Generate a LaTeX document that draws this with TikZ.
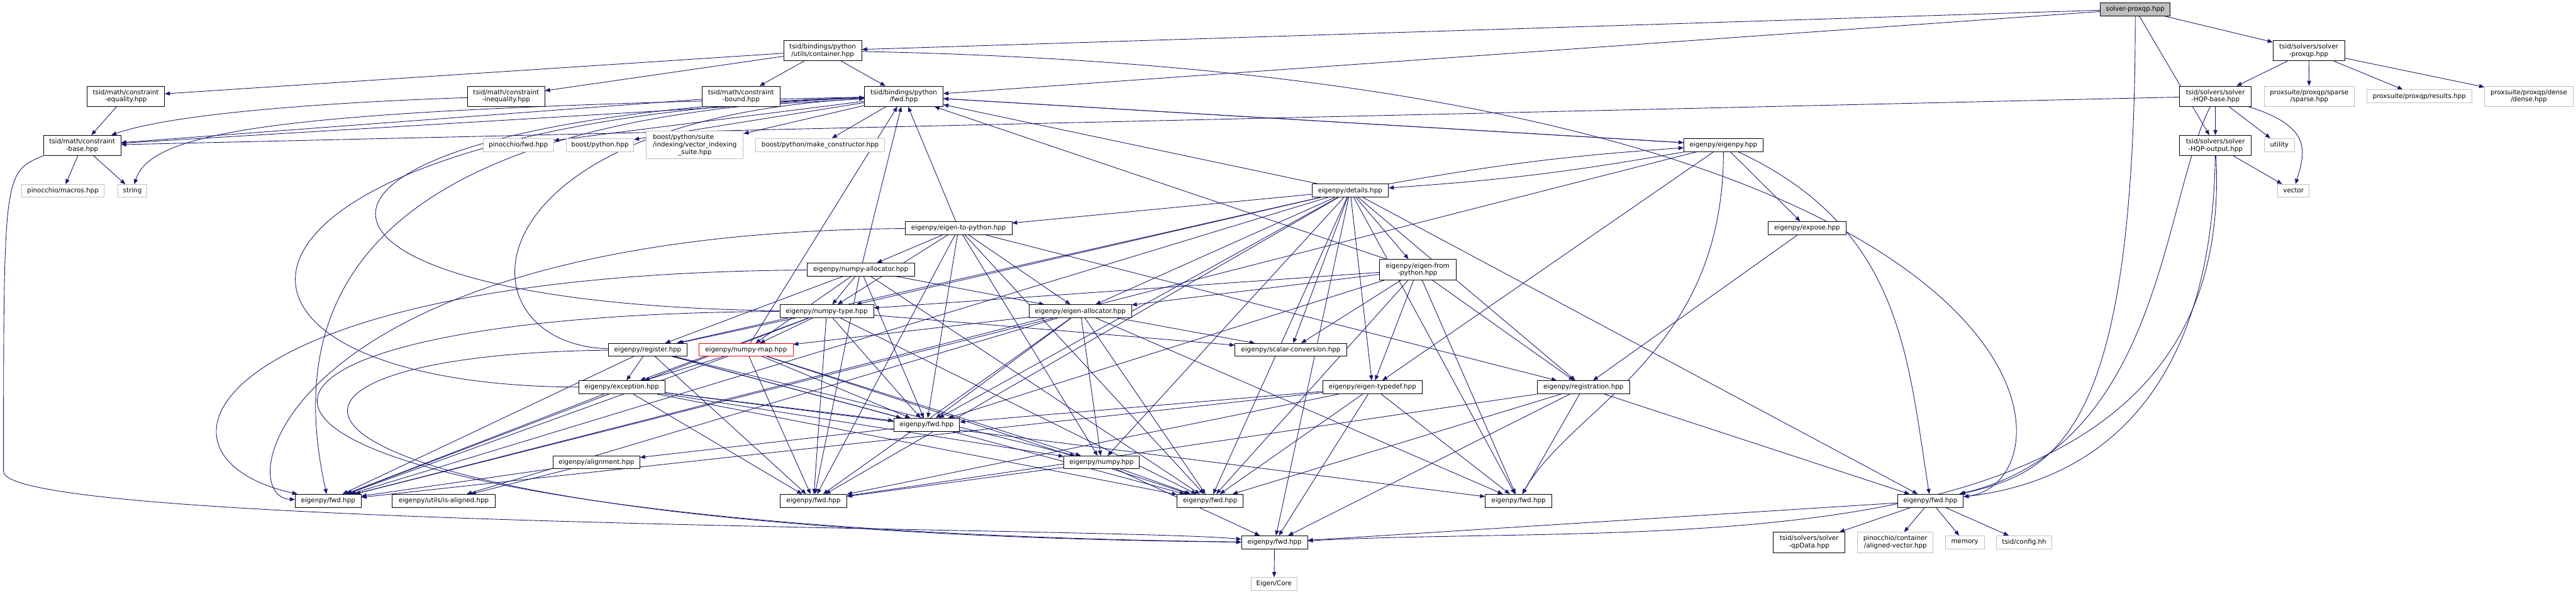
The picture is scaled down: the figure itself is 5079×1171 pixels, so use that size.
\documentclass[tikz,border=0pt]{standalone}
\usepackage{fontspec}
\usepackage{calc}
\setmainfont{DejaVu Sans}
\usetikzlibrary{arrows.meta}
\definecolor{Navy}{HTML}{191970}
\definecolor{Ext}{HTML}{BFBFBF}
\pgfdeclarelayer{bg}
\pgfsetlayers{bg,main}

\begin{document}
\begin{tikzpicture}[x=1pt,y=1pt,
    file/.style={draw=black,fill=white,line width=1pt,inner sep=0pt,minimum height=26,
      align=center,font=\fontsize{12.8}{14.5}\selectfont},
    ext/.style={file,draw=Ext},
    root/.style={file,fill=Ext},
    two/.style={minimum height=40},
    dep/.style={Navy,line width=1.1pt,-{Triangle[length=10pt,width=8pt]}},
    every edge/.style={draw,dep}
  ]
  \useasboundingbox (0,0) rectangle (5079,-1171);

  % top of the graph
  \node[root,minimum width=138] (r) at (4210,-18) {solver-proxqp.hpp};
  \node[file,two,minimum width=154] (con) at (1622,-100) {tsid/bindings/python\\/utils/container.hpp};
  \node[file,two,minimum width=141] (tsp) at (4552,-100) {tsid/solvers/solver\\-proxqp.hpp};
  \node[file,two,minimum width=153] (ceq) at (248,-190) {tsid/math/constraint\\-equality.hpp};
  \node[file,two,minimum width=152] (cin) at (998,-190) {tsid/math/constraint\\-inequality.hpp};
  \node[file,two,minimum width=153] (cbd) at (1461,-190) {tsid/math/constraint\\-bound.hpp};
  \node[file,two,minimum width=155] (tbf) at (1782,-190) {tsid/bindings/python\\/fwd.hpp};
  \node[file,two,minimum width=141] (hb) at (4368,-190) {tsid/solvers/solver\\-HQP-base.hpp};
  \node[ext,two,minimum width=178] (spa) at (4553,-190) {proxsuite/proxqp/sparse\\/sparse.hpp};
  \node[ext,minimum width=207] (res) at (4770,-190) {proxsuite/proxqp/results.hpp};
  \node[ext,two,minimum width=175] (den) at (4986,-190) {proxsuite/proxqp/dense\\/dense.hpp};
  \node[file,two,minimum width=153] (cba) at (162,-287) {tsid/math/constraint\\-base.hpp};
  \node[ext,minimum width=139] (pfw) at (1022,-286) {pinocchio/fwd.hpp};
  \node[ext,minimum width=133] (bpy) at (1183,-286) {boost/python.hpp};
  \node[ext,minimum width=191,minimum height=55] (vis) at (1370,-286)
    {\makebox[\widthof{/indexing/vector\_indexing}][l]{boost/python/suite}\\/indexing/vector\_indexing\\\_suite.hpp};
  \node[ext,minimum width=254] (mkc) at (1617,-286) {boost/python/make\_constructor.hpp};
  \node[file,minimum width=156] (epy) at (3398,-286) {eigenpy/eigenpy.hpp};
  \node[file,two,minimum width=141] (ho) at (4368,-287) {tsid/solvers/solver\\-HQP-output.hpp};
  \node[ext,minimum width=60] (uti) at (4494,-286) {utility};
  \node[ext,minimum width=163,minimum height=24] (mac) at (124,-376) {pinocchio/macros.hpp};
  \node[ext,minimum width=58,minimum height=24] (str) at (261,-376) {string};
  \node[file,minimum width=151] (det) at (2662,-376) {eigenpy/details.hpp};
  \node[ext,minimum width=62,minimum height=25] (vec) at (4522,-376) {vector};

  % eigenpy part
  \node[file,minimum width=210] (e2p) at (1890,-450) {eigenpy/eigen-to-python.hpp};
  \node[file,minimum width=153] (exp) at (3563,-450) {eigenpy/expose.hpp};
  \node[file,minimum width=212] (nal) at (1697,-532) {eigenpy/numpy-allocator.hpp};
  \node[file,minimum width=151,minimum height=41] (efp) at (2795,-532) {eigenpy/eigen-from\\-python.hpp};
  \node[file,minimum width=185] (nty) at (1630,-614) {eigenpy/numpy-type.hpp};
  \node[file,minimum width=202] (eal) at (2130,-614) {eigenpy/eigen-allocator.hpp};
  \node[file,minimum width=154,minimum height=25] (reg) at (1277,-690) {eigenpy/register.hpp};
  \node[file,draw=red,minimum width=185,minimum height=25] (nmap) at (1471,-690) {eigenpy/numpy-map.hpp};
  \node[file,minimum width=220,minimum height=25] (scv) at (2545,-690) {eigenpy/scalar-conversion.hpp};
  \node[file,minimum width=170] (exc) at (1226,-764) {eigenpy/exception.hpp};
  \node[file,minimum width=195] (etd) at (2706,-764) {eigenpy/eigen-typedef.hpp};
  \node[file,minimum width=182] (rgn) at (3122,-764) {eigenpy/registration.hpp};
  \node[file,minimum width=130] (f2) at (1827,-838) {eigenpy/fwd.hpp};
  \node[file,minimum width=171,minimum height=25] (ali) at (1176,-912) {eigenpy/alignment.hpp};
  \node[file,minimum width=149,minimum height=25] (npy) at (2172,-912) {eigenpy/numpy.hpp};
  \node[file,minimum width=130] (f1) at (647,-988) {eigenpy/fwd.hpp};
  \node[file,minimum width=203] (isa) at (875,-988) {eigenpy/utils/is-aligned.hpp};
  \node[file,minimum width=131] (f3) at (1604,-988) {eigenpy/fwd.hpp};
  \node[file,minimum width=130] (f4) at (2386,-988) {eigenpy/fwd.hpp};
  \node[file,minimum width=131] (f6) at (2994,-988) {eigenpy/fwd.hpp};
  \node[file,minimum width=130] (f7) at (3806,-988) {eigenpy/fwd.hpp};
  \node[file,two,minimum width=141] (qpd) at (3567,-1070) {tsid/solvers/solver\\-qpData.hpp};
  \node[ext,two,minimum width=149] (avc) at (3737,-1070) {pinocchio/container\\/aligned-vector.hpp};
  \node[ext,minimum width=77] (mem) at (3874,-1070) {memory};
  \node[ext,minimum width=109] (cfg) at (3991,-1070) {tsid/config.hh};
  \node[file,minimum width=130] (f5) at (2513,-1070) {eigenpy/fwd.hpp};
  \node[ext,minimum width=91] (cor) at (2512,-1152) {Eigen/Core};
  \coordinate (lft) at (7,-930);

  \begin{pgfonlayer}{bg}
    % solver side
    \path (r) edge (con) edge (tbf) edge (tsp) edge (ho);
    \draw[dep] (r) .. controls (4210,-850) and (4060,-930) .. (f7);
    \path (tsp) edge (hb) edge (spa) edge (res) edge (den);
    \path (hb) edge (ho) edge (uti) edge (cba);
    \draw[dep] (hb) .. controls (4560,-250) and (4545,-300) .. (vec);
    \draw[dep] (hb) .. controls (4262,-400) and (4262,-880) .. (f7);
    \path (ho) edge (vec);
    \draw[dep] (ho) .. controls (4362,-700) and (4200,-940) .. (f7);
    \draw[dep] (ho) .. controls (4413,-1150) and (3300,-1030) .. (f5);
    % constraints
    \path (con) edge (ceq) edge (cin) edge (cbd) edge (tbf);
    \draw[dep] (con) .. controls (4109,-150) and (4109,-950) .. (f7);
    \path (ceq) edge (cba) (cbd) edge (cba);
    \draw[dep] (cin) .. controls (700,-200) and (350,-220) .. (cba);
    \path (cba) edge (mac) edge (str);
    \draw[dep] (cba.south west) .. controls (7,-340) .. (lft)
      .. controls (7,-1040) and (2200,-1040) .. (f5);
    % bindings fwd
    \path (tbf) edge (pfw) edge (bpy) edge (vis) edge (mkc) edge (epy) edge (cba);
    \draw[dep] (tbf) .. controls (600,-215) and (300,-250) .. (str);
    \draw[dep] (tbf) .. controls (700,-230) and (560,-600) .. (f1);
    % back to the bindings fwd, round the left side
    \draw[dep] (nty) .. controls (450,-600) and (450,-230) .. (tbf);
    \draw[dep] (exc) .. controls (300,-760) and (350,-240) .. (tbf);
    \draw[dep] (reg) .. controls (900,-680) and (900,-240) .. (tbf);
    \draw[dep] (nal) .. controls (400,-540) and (250,-900) .. (f1);
    \draw[dep] (e2p) .. controls (550,-460) and (450,-980) .. (f1);
    \draw[dep] (nty) .. controls (200,-620) and (200,-1040) .. (f5);
    \draw[dep] (reg) .. controls (330,-700) and (450,-1050) .. (f5);
    % eigenpy
    \path (epy) edge[bend left=3] (det) edge (exp) edge (tbf) edge (etd) edge (f1);
    \draw[dep] (epy) .. controls (3750,-450) and (3760,-700) .. (f7);
    \draw[dep] (epy) .. controls (3398,-700) and (3100,-800) .. (f6);
    \path (det) edge[bend left=3] (epy) edge (e2p) edge (efp) edge (nty) edge (eal) edge (scv)
      edge (reg) edge (rgn) edge (tbf) edge (etd) edge (npy) edge (f1) edge (f2) edge (f3)
      edge (f4) edge (f5) edge (f6) edge (f7);
    \path (e2p) edge (nal) edge (nty) edge (eal) edge (tbf) edge (rgn) edge (npy)
      edge (f2) edge (f3) edge (f4);
    \path (nal) edge (nty) edge (eal) edge (reg) edge (nmap) edge (tbf)
      edge (f2) edge (f3) edge (f4);
    \path (efp) edge (eal) edge (nty) edge (scv) edge (tbf) edge (etd) edge (rgn)
      edge (f2) edge (f4) edge (f6);
    \path (nty) edge (reg) edge (nmap) edge (exc) edge (scv)
      edge (f1) edge (f2) edge (f3) edge (f4);
    \path (eal) edge (nmap) edge (scv) edge (npy) edge (isa)
      edge (f1) edge (f2) edge (f3) edge (f4) edge (f6);
    \path (reg) edge (exc) edge (npy) edge (f1) edge (f2) edge (f3) edge (f4);
    \path (nmap) edge (exc) edge (npy) edge (tbf) edge (f1) edge (f2) edge (f3) edge (f4);
    \path (exc) edge (npy) edge (f1) edge (f2) edge (f3) edge (f4) edge (f6);
    \path (etd) edge (f1) edge (f2) edge (f3) edge (f4) edge (f5) edge (f6);
    \path (rgn) edge (f3) edge (f4) edge (f5) edge (f6) edge (f7);
    \path (exp) edge (rgn) (f2) edge (ali) (ali) edge (isa) edge (f1);
    \path (npy) edge (f3) edge (f4) edge (f5);
    \path (f7) edge (qpd) edge (avc) edge (mem) edge (cfg) edge (f5);
    \path (f5) edge (cor);
  \end{pgfonlayer}
\end{tikzpicture}
\end{document}
